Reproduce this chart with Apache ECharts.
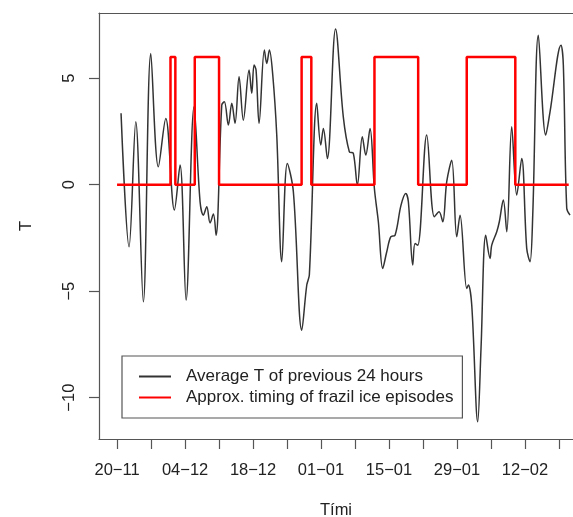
<!DOCTYPE html>
<html>
<head>
<meta charset="utf-8">
<script src="https://cdn.jsdelivr.net/npm/echarts@6/dist/echarts.min.js"></script>
<style>
  html, body { margin: 0; padding: 0; background: #fff; }
  #chart { width: 573px; height: 517px; }
</style>
</head>
<body>
<div id="chart"></div>
<script>
// days counted from 20-11
const tickDays = [0, 7, 14, 21, 28, 35, 42, 49, 56, 63, 70, 77, 84, 91];
const labelDays = [0, 14, 28, 42, 56, 70, 84];
const dayLabels = ["20-11", "04-12", "18-12", "01-01", "15-01", "29-01", "12-02"];
const yTicks = [-10, -5, 0, 5];

// average T of previous 24 hours
const tempDays = [
  0.82, 2.47, 3.85, 5.41, 6.94, 8.50, 10.03, 11.80, 12.97, 14.21,
  15.85, 17.09, 17.77, 18.47, 19.15, 19.83, 20.38, 21.56, 22.09, 22.92,
  23.62, 24.29, 25.12, 26.00, 27.18, 27.73, 28.21, 28.62, 29.24, 30.33,
  30.82, 31.36, 32.06, 32.88, 33.91, 35.06, 36.30, 38.03, 39.06, 39.59,
  41.12, 41.94, 42.48, 43.30, 44.99, 46.59, 47.83, 48.65, 49.48, 50.50,
  51.21, 52.09, 52.98, 53.80, 54.70, 55.53, 56.35, 57.24, 58.47, 59.44,
  59.98, 60.88, 61.35, 61.91, 63.76, 65.33, 66.30, 67.06, 67.88, 68.91,
  69.94, 70.62, 72.00, 72.33, 73.03, 74.26, 74.94, 75.91, 76.80, 77.15,
  78.18, 78.71, 79.53, 80.24, 81.26, 82.29, 83.32, 84.35, 85.03, 85.59,
  86.74, 88.26, 89.15, 91.41, 91.89, 92.59, 93.27
];
const tempValues = [
  3.35, -2.92, 2.95, -5.50, 6.16, 0.84, 3.11, -1.19, 0.92, -5.42,
  3.66, -0.80, -1.43, -1.04, -1.80, -1.38, -2.37, 3.74, 3.89, 2.80,
  3.82, 2.88, 5.07, 3.03, 5.38, 4.29, 5.62, 5.38, 2.88, 6.32,
  5.69, 6.32, 5.15, 2.33, -3.62, 1.00, -0.33, -6.83, -4.71, -4.24,
  3.82, 1.86, 2.64, 1.23, 7.31, 3.17, 1.54, 1.47, -0.02, 2.25,
  1.39, 2.64, -0.17, -1.74, -3.93, -3.15, -2.45, -2.37, -0.96, -0.41,
  -0.80, -3.77, -2.76, -2.84, 2.33, -1.51, -1.27, -1.74, 0.14, 1.15,
  -2.45, -1.43, -4.87, -4.71, -5.65, -11.13, -7.69, -2.37, -3.46, -2.84,
  -2.21, -1.74, -0.72, -2.21, 2.72, -0.49, 1.23, -2.99, -3.62, -1.43,
  7.02, 2.33, 3.42, 6.55, 5.62, -1.11, -1.43
];

// frazil ice episodes
const episodeStart = [11, 16, 38, 53, 72];
const episodeEnd = [12, 21, 40, 62, 82];
const episodeLevel = 6;
const periodEnd = 93;

const tempData = tempDays.map((d, i) => [d, tempValues[i]]);
const iceData = [[0, 0]];
episodeStart.forEach((s, i) => {
  iceData.push([s, 0], [s, episodeLevel], [episodeEnd[i], episodeLevel], [episodeEnd[i], 0]);
});
iceData.push([periodEnd, 0]);

const font = "Liberation Sans";
const boxColor = "#555";
const xMin = -3.72, xMax = 93.88;
const boxLine = { show: true, onZero: false, lineStyle: { color: boxColor, width: 1.2 } };

const chart = echarts.init(document.getElementById("chart"));
chart.setOption({
  animation: false,
  textStyle: { fontFamily: font },
  grid: { left: 99, top: 13, right: 0, bottom: 78, containLabel: false, outerBoundsMode: "none" },
  legend: {
    orient: "vertical",
    left: 122, top: 356,
    padding: [12, 9, 12, 16],
    itemGap: 4,
    itemWidth: 32, itemHeight: 14,
    itemStyle: { opacity: 0 },
    borderColor: boxColor, borderWidth: 1.2,
    textStyle: { fontFamily: font, fontSize: 17, color: "#222", padding: [0, 0, 0, 10] },
    data: ["Average T of previous 24 hours", "Approx. timing of frazil ice episodes"]
  },
  xAxis: [
    {
      type: "value",
      min: xMin, max: xMax,
      name: "Tími",
      nameLocation: "middle",
      nameGap: 63,
      nameTextStyle: { fontFamily: font, fontSize: 16.5, color: "#222" },
      axisLine: boxLine,
      splitLine: { show: false },
      axisTick: { show: true, length: 10, customValues: tickDays, lineStyle: { color: boxColor, width: 1.2 } },
      axisLabel: {
        customValues: labelDays,
        margin: 23,
        fontSize: 16.5, color: "#222",
        formatter: v => (dayLabels[labelDays.indexOf(Math.round(v))] || "").replace("-", "\u2212")
      }
    },
    {
      type: "value",
      position: "top",
      min: xMin, max: xMax,
      axisLine: boxLine,
      axisTick: { show: false },
      axisLabel: { show: false },
      splitLine: { show: false }
    }
  ],
  yAxis: {
    type: "value",
    min: -11.94, max: 8.06,
    name: "T",
    nameLocation: "middle",
    nameRotate: 90,
    nameGap: 64,
    nameTextStyle: { fontFamily: font, fontSize: 16.5, color: "#222" },
    axisLine: boxLine,
    splitLine: { show: false },
    axisTick: { show: true, length: 10, customValues: yTicks, lineStyle: { color: boxColor, width: 1.2 } },
    axisLabel: {
      customValues: yTicks,
      rotate: 90,
      margin: 21,
      fontSize: 16.5, color: "#222",
      formatter: v => String(v).replace("-", "\u2212")
    }
  },
  series: [
    {
      name: "Average T of previous 24 hours",
      type: "line",
      data: tempData,
      smooth: 0.35,
      symbol: "none",
      lineStyle: { color: "#333", width: 1.5 },
      itemStyle: { color: "#555" }
    },
    {
      name: "Approx. timing of frazil ice episodes",
      type: "line",
      data: iceData,
      symbol: "none",
      lineStyle: { color: "#ff0000", width: 2.5 },
      itemStyle: { color: "#ff0000" }
    }
  ]
});
</script>
</body>
</html>
